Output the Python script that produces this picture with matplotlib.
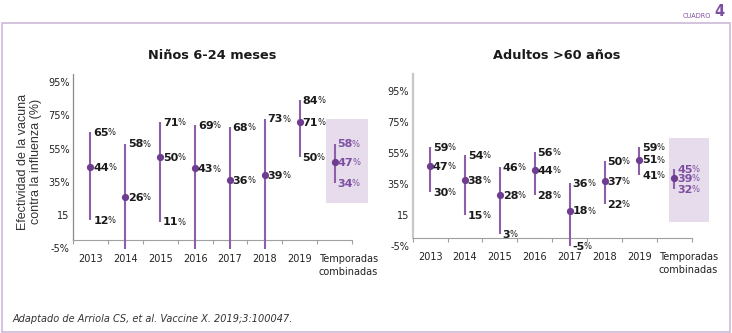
import matplotlib
matplotlib.use("Agg")
import matplotlib.pyplot as plt
from matplotlib.patches import Rectangle
from matplotlib.transforms import IdentityTransform

plt.rcParams["font.family"] = ["DejaVu Sans"]

# ===== data =====
YEARS = ["2013", "2014", "2015", "2016", "2017", "2018", "2019"]
COMBINED = "Temporadas\ncombinadas"

# Niños 6-24 meses (None = lower bound below the chart, no label)
NINOS_EST = [44, 26, 50, 43, 36, 39, 71, 47]
NINOS_HI = [65, 58, 71, 69, 68, 73, 84, 58]
NINOS_LO = [12, None, 11, None, None, None, 50, 34]

# Adultos >60 años
ADULT_EST = [47, 38, 28, 44, 18, 37, 51, 39]
ADULT_HI = [59, 54, 46, 56, 36, 50, 59, 45]
ADULT_LO = [30, 15, 3, 28, -5, 22, 41, 32]

YTICKS = [-5, 15, 35, 55, 75, 95]
YTICK_LABELS = ["-5%", "15", "35%", "55%", "75%", "95%"]

# ===== style =====
LINE = "#8d5fab"
DOT = "#6e3d90"
TXT = "#1a1a1a"
COMB_TXT = "#7d4fa1"
BOX = "#e6dcec"
FRAME = "#cdb9d8"

W, H = 732, 333
fig = plt.figure(figsize=(W / 100, H / 100), dpi=100)
num_texts = []  # (text artist, colour) -> a small "%" is added after drawing


def px_axes(x0, x1, y0, y1):
    # pixel box (from top-left) -> figure axes
    return fig.add_axes([x0 / W, 1 - y1 / H, (x1 - x0) / W, (y1 - y0) / H])


def pct_label(ax, x, y, color):
    t = ax.annotate(f"{y:g}", (x, y), xytext=(2, -0.6), textcoords="offset points",
                    ha="left", va="center", fontsize=8, fontweight="bold",
                    color=color, zorder=5, annotation_clip=False)
    num_texts.append((t, color))


def draw_panel(ax, title, est, hi, lo, ylim, box, spine_col, spine_lw, title_x):
    ax.set_xlim(-0.5, 7.5)
    ax.set_ylim(*ylim)
    for s in ("top", "right"):
        ax.spines[s].set_visible(False)
    ax.spines["bottom"].set_position(("data", 0))
    ax.spines["bottom"].set_bounds(-0.5, 7.5)
    ax.spines["bottom"].set_color("#a0a0a0")
    ax.spines["bottom"].set_linewidth(0.8)
    ax.spines["left"].set_bounds(0, ylim[1])
    ax.spines["left"].set_color(spine_col)
    ax.spines["left"].set_linewidth(spine_lw)

    ax.set_xticks(range(len(YEARS)), YEARS)
    ax.set_xticks([i - 0.5 for i in range(len(est) + 1)], minor=True)
    ax.tick_params(axis="x", which="major", length=0, pad=10, labelsize=7, colors="#222222")
    ax.tick_params(axis="x", which="minor", length=3, width=0.8, color="#a0a0a0")
    ax.set_yticks(YTICKS, YTICK_LABELS)
    ax.tick_params(axis="y", length=0, pad=2.5, labelsize=7, colors="#222222")
    ax.patch.set_visible(False)

    ax.annotate(COMBINED, xy=(7.4, 0), xytext=(0, -10), textcoords="offset points",
                ha="center", va="top", fontsize=7, color="#222222", linespacing=1.35,
                annotation_clip=False)
    ax.add_patch(Rectangle((box[0], box[2]), box[1] - box[0], box[3] - box[2],
                           facecolor=BOX, edgecolor="none", clip_on=False, zorder=1))

    n = len(est)
    for i in range(n):
        color = COMB_TXT if i == n - 1 else TXT
        bottom = lo[i] if lo[i] is not None else ylim[0]
        ax.vlines(i, bottom, hi[i], color=LINE, lw=1.5, zorder=3, clip_on=False)
        ax.plot(i, est[i], "o", ms=4.2, color=DOT, zorder=4, clip_on=False)
        pct_label(ax, i, hi[i], color)
        pct_label(ax, i, est[i], color)
        if lo[i] is not None:
            pct_label(ax, i, lo[i], color)

    ax.set_title(title, fontsize=9.3, fontweight="bold", pad=11, x=title_x, color="#1a1a1a")


ax1 = px_axes(73, 352, 74, 249)
ax2 = px_axes(412.7, 691.7, 74, 249)

draw_panel(ax1, "Niños 6-24 meses", NINOS_EST, NINOS_HI, NINOS_LO,
           (-5.5, 99.9), (6.75, 7.95, 22.4, 72.8), "#8a8a8a", 0.9, 0.5)
draw_panel(ax2, "Adultos >60 años", ADULT_EST, ADULT_HI, ADULT_LO,
           (-6.8, 106.3), (6.84, 8.01, 10.7, 65.1), "#c8c8c8", 1.6, 0.517)

ax1.set_ylabel("Efectividad de la vacuna\ncontra la influenza (%)",
               family=["Liberation Sans", "DejaVu Sans"], fontsize=9,
               color="#333333", labelpad=4, linespacing=1.1)

# frame and header
fig.add_artist(Rectangle((2 / W, 1 / H), (730 - 2) / W, (310 - 1) / H,
                         transform=fig.transFigure, fill=False, edgecolor=FRAME, lw=1.2))
fig.text(711 / W, 1 - 15.5 / H, "CUADRO", ha="right", va="center", fontsize=4.7, color=COMB_TXT)
fig.text(714 / W, 1 - 12 / H, "4", ha="left", va="center", fontsize=10.5,
         fontweight="bold", color=COMB_TXT)

fig.text(13 / W, 1 - 319 / H, "Adaptado de Arriola CS, et al. Vaccine X. 2019;3:100047.",
         ha="left", va="center", fontsize=7, style="italic", color="#333333")

# small "%" right after each bold number
fig.canvas.draw()
renderer = fig.canvas.get_renderer()
for t, color in num_texts:
    bb = t.get_window_extent(renderer)
    fig.text(bb.x1 - 0.9, bb.y0 + 0.8, "%", transform=IdentityTransform(),
             ha="left", va="bottom", fontsize=6, color=color, zorder=5)

fig.savefig("out.png", dpi=100)
